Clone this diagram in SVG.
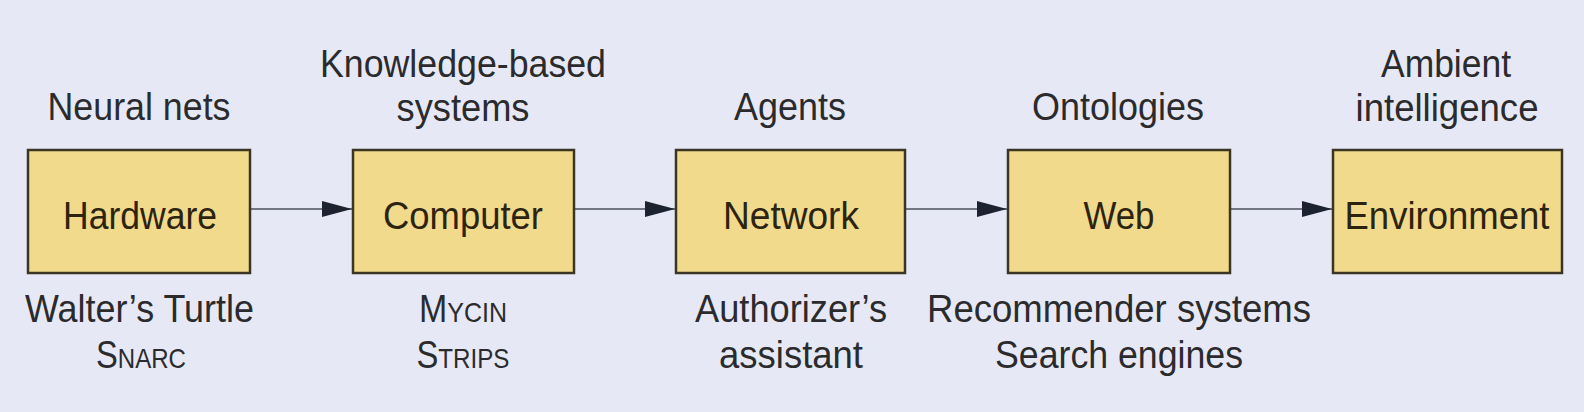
<svg xmlns="http://www.w3.org/2000/svg" width="1584" height="412" viewBox="0 0 1584 412">
<style>
.bg{fill:#e6e9f5}
.box{fill:#f1da8b;stroke:#3a3524;stroke-width:2.5}
.lbl{font-family:"Liberation Sans",Arial,sans-serif;font-size:38px;fill:#2b2b2e;text-anchor:middle}
.in{fill:#2c2410}
.sc{font-size:28px}
.conn{stroke:#4a4f5a;stroke-width:1.6;fill:none}
</style>
<defs>
<marker id="ah" markerUnits="userSpaceOnUse" markerWidth="30" markerHeight="16" refX="30" refY="8" orient="auto">
<path d="M0,0 L30,8 L0,16 Z" fill="#1c2230"/>
</marker>
</defs>
<rect class="bg" x="0" y="0" width="1584" height="412"/>
<g id="connectors">
<line class="conn" x1="250" y1="209" x2="352" y2="209" marker-end="url(#ah)"/>
<line class="conn" x1="574" y1="209" x2="675" y2="209" marker-end="url(#ah)"/>
<line class="conn" x1="905" y1="209" x2="1007" y2="209" marker-end="url(#ah)"/>
<line class="conn" x1="1230" y1="209" x2="1332" y2="209" marker-end="url(#ah)"/>
</g>
<g id="node-hardware">
<text class="lbl" x="139" y="120" textLength="183" lengthAdjust="spacingAndGlyphs">Neural nets</text>
<rect class="box" x="28" y="150" width="222" height="123"/>
<text class="lbl in" x="140" y="229" textLength="154" lengthAdjust="spacingAndGlyphs">Hardware</text>
<text class="lbl" x="139.5" y="322" textLength="229" lengthAdjust="spacingAndGlyphs">Walter’s Turtle</text>
<text class="lbl" x="141" y="368" textLength="90" lengthAdjust="spacingAndGlyphs">S<tspan class="sc">NARC</tspan></text>
</g>
<g id="node-computer">
<text class="lbl" x="463" y="77" textLength="286" lengthAdjust="spacingAndGlyphs">Knowledge-based</text>
<text class="lbl" x="463" y="121" textLength="133" lengthAdjust="spacingAndGlyphs">systems</text>
<rect class="box" x="353" y="150" width="221" height="123"/>
<text class="lbl in" x="463" y="229" textLength="160" lengthAdjust="spacingAndGlyphs">Computer</text>
<text class="lbl" x="463" y="322" textLength="88" lengthAdjust="spacingAndGlyphs">M<tspan class="sc">YCIN</tspan></text>
<text class="lbl" x="463" y="368" textLength="93" lengthAdjust="spacingAndGlyphs">S<tspan class="sc">TRIPS</tspan></text>
</g>
<g id="node-network">
<text class="lbl" x="790" y="120" textLength="112" lengthAdjust="spacingAndGlyphs">Agents</text>
<rect class="box" x="676" y="150" width="229" height="123"/>
<text class="lbl in" x="791" y="229" textLength="136" lengthAdjust="spacingAndGlyphs">Network</text>
<text class="lbl" x="791" y="322" textLength="192" lengthAdjust="spacingAndGlyphs">Authorizer’s</text>
<text class="lbl" x="791" y="368" textLength="144" lengthAdjust="spacingAndGlyphs">assistant</text>
</g>
<g id="node-web">
<text class="lbl" x="1118" y="120" textLength="172" lengthAdjust="spacingAndGlyphs">Ontologies</text>
<rect class="box" x="1008" y="150" width="222" height="123"/>
<text class="lbl in" x="1119" y="229" textLength="71" lengthAdjust="spacingAndGlyphs">Web</text>
<text class="lbl" x="1119" y="322" textLength="384" lengthAdjust="spacingAndGlyphs">Recommender systems</text>
<text class="lbl" x="1119" y="368" textLength="248" lengthAdjust="spacingAndGlyphs">Search engines</text>
</g>
<g id="node-environment">
<text class="lbl" x="1446" y="77" textLength="130" lengthAdjust="spacingAndGlyphs">Ambient</text>
<text class="lbl" x="1447" y="121" textLength="183" lengthAdjust="spacingAndGlyphs">intelligence</text>
<rect class="box" x="1333" y="150" width="229" height="123"/>
<text class="lbl in" x="1447" y="229" textLength="205" lengthAdjust="spacingAndGlyphs">Environment</text>
</g>
</svg>
